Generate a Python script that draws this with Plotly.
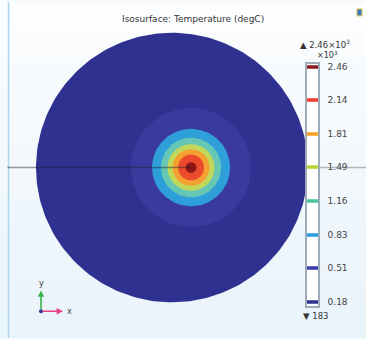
import numpy as np
import plotly.graph_objects as go

# ---- data ----
title_text = "Isosurface: Temperature (degC)"
levels = [0.18, 0.51, 0.83, 1.16, 1.49, 1.81, 2.14, 2.46]          # x10^3 degC
level_labels = ["0.18", "0.51", "0.83", "1.16", "1.49", "1.81", "2.14", "2.46"]
level_colors = ["#2e3192", "#3b3aa6", "#2a9de0", "#46c4a2", "#b8d432", "#f4a020", "#ee3b2b", "#8b1a1a"]
max_label = "▲ 2.46×10<sup>3</sup>"
min_label = "▼ 183"

disk_radius = 1.0                       # domain (disk) radius, model units
disk_color = "#2f3190"
source_center = (0.14, 0.0)             # hot spot centre
ring_radii = [0.441, 0.287, 0.221, 0.173, 0.136, 0.096, 0.040]     # isotherm radii 0.51 .. 2.46
ring_colors = ["#3a399d", "#2f9fda", "#66c8b4", "#c2d85a", "#f5a033", "#ec4a2c", "#8c1616"]
cut_line_x = [-1.21, 0.14]              # section line drawn over the domain
cut_line_right_x = [1.075, 1.43]

W, H = 366, 339
PX = 136.0  # px per model unit
cx_px, cy_px = 172, 167

fig = go.Figure()

th = np.linspace(0, 2 * np.pi, 241)

fig.add_trace(go.Scatter(x=disk_radius * np.cos(th), y=disk_radius * np.sin(th),
                         fill="toself", fillcolor=disk_color, mode="lines",
                         line=dict(width=0, color=disk_color), hoverinfo="skip", showlegend=False))
for r, c in zip(ring_radii, ring_colors):
    fig.add_trace(go.Scatter(x=source_center[0] + r * np.cos(th), y=source_center[1] + r * np.sin(th),
                             fill="toself", fillcolor=c, mode="lines",
                             line=dict(width=0, color=c), hoverinfo="skip", showlegend=False))
fig.add_trace(go.Scatter(x=cut_line_x, y=[0, 0], mode="lines",
                         line=dict(color="rgba(30,30,40,0.45)", width=1.6),
                         hoverinfo="skip", showlegend=False))
fig.add_trace(go.Scatter(x=cut_line_right_x, y=[0, 0], mode="lines",
                         line=dict(color="rgba(60,60,70,0.35)", width=1.6),
                         hoverinfo="skip", showlegend=False))

for v, c in zip(levels, level_colors):
    fig.add_trace(go.Scatter(x=[0, 1], y=[v, v], mode="lines", xaxis="x2", yaxis="y2",
                             line=dict(color=c, width=3.5), hoverinfo="skip", showlegend=False))

shapes = []
nb = 12
top = np.array([252, 253, 254])
bot = np.array([234, 244, 251])
for i in range(nb):
    t = i / (nb - 1)
    col = (top * (1 - t) + bot * t).astype(int)
    shapes.append(dict(type="rect", xref="paper", yref="paper", x0=0, x1=1,
                       y0=1 - (i + 1) / nb, y1=1 - i / nb, layer="below",
                       line=dict(width=0), fillcolor="rgb(%d,%d,%d)" % tuple(col)))
shapes.append(dict(type="line", xref="paper", yref="paper", x0=8.5 / W, x1=8.5 / W, y0=0, y1=1,
                   line=dict(color="#a9d5f2", width=1.5), layer="below"))
shapes.append(dict(type="rect", xref="x2", yref="y2", x0=0, x1=1, y0=0.1387, y1=2.486,
                   fillcolor="white", line=dict(width=0), layer="below"))
shapes.append(dict(type="rect", xref="paper", yref="paper", x0=357 / W, x1=362 / W,
                   y0=1 - 14 / H, y1=1 - 7 / H, fillcolor="#3a78c8", line=dict(color="#e8c840", width=1)))

def P(x, y):
    return x / W, 1 - y / H

ann = []
def txt(x, y, s, size, color="#333333", xa="center"):
    tx, ty = P(x, y)
    ann.append(dict(x=tx, y=ty, xref="paper", yref="paper", text=s, showarrow=False,
                    xanchor=xa, yanchor="middle",
                    font=dict(size=size, color=color, family="DejaVu Sans")))

txt(193, 17, title_text, 9)
txt(325, 42, max_label, 8.5)
txt(327, 53, "×10<sup>3</sup>", 8)
txt(301, 317, min_label, 8.5, xa="left")
txt(41, 284, "y", 8, "#444444")
txt(69, 312, "x", 8, "#444444")

ox, oy = P(41, 312)
ann.append(dict(x=ox, y=P(0, 291)[1], xref="paper", yref="paper", ax=0, ay=20, text="",
                showarrow=True, arrowhead=2, arrowsize=0.8, arrowwidth=1.6, arrowcolor="#3cb44a"))
ann.append(dict(x=P(63, 0)[0], y=oy, xref="paper", yref="paper", ax=-22, ay=0, text="",
                showarrow=True, arrowhead=2, arrowsize=0.8, arrowwidth=1.6, arrowcolor="#e8407a"))
shapes.append(dict(type="circle", xref="paper", yref="paper", x0=P(39, 0)[0], x1=P(43, 0)[0],
                   y0=P(0, 314)[1], y1=P(0, 310)[1], fillcolor="#2a3a8a", line=dict(width=0)))

fig.update_layout(
    width=W, height=H,
    margin=dict(l=0, r=0, t=0, b=0),
    paper_bgcolor="#f6fafd", plot_bgcolor="#f6fafd",
    showlegend=False,
    shapes=shapes, annotations=ann,
    xaxis=dict(range=[-cx_px / PX, (W - cx_px) / PX], domain=[0, 1], visible=False, fixedrange=True),
    yaxis=dict(range=[-(H - cy_px) / PX, cy_px / PX], domain=[0, 1], visible=False, fixedrange=True),
    xaxis2=dict(range=[0, 1], domain=[307 / W, 318 / W], anchor="y2", showgrid=False, zeroline=False,
                showticklabels=False, showline=True, mirror=True, linecolor="#9eabb8", linewidth=1.5,
                ticks=""),
    yaxis2=dict(range=[0.1387, 2.486], domain=[(H - 307) / H, (H - 63) / H], anchor="x2", side="right",
                showgrid=False, zeroline=False, showline=True, mirror=True, linecolor="#9eabb8",
                linewidth=1.5, tickvals=levels, ticktext=level_labels, ticks="",
                ticklabelstandoff=6, tickfont=dict(size=9, color="#444444", family="DejaVu Sans")),
)

fig.write_html("out.html", config={"displayModeBar": False})
with open("out.html", "r", encoding="utf-8") as f:
    html = f.read()
html = html.replace("<head>", "<head><style>html,body{margin:0;padding:0;overflow:hidden;}</style>", 1)
with open("out.html", "w", encoding="utf-8") as f:
    f.write(html)
